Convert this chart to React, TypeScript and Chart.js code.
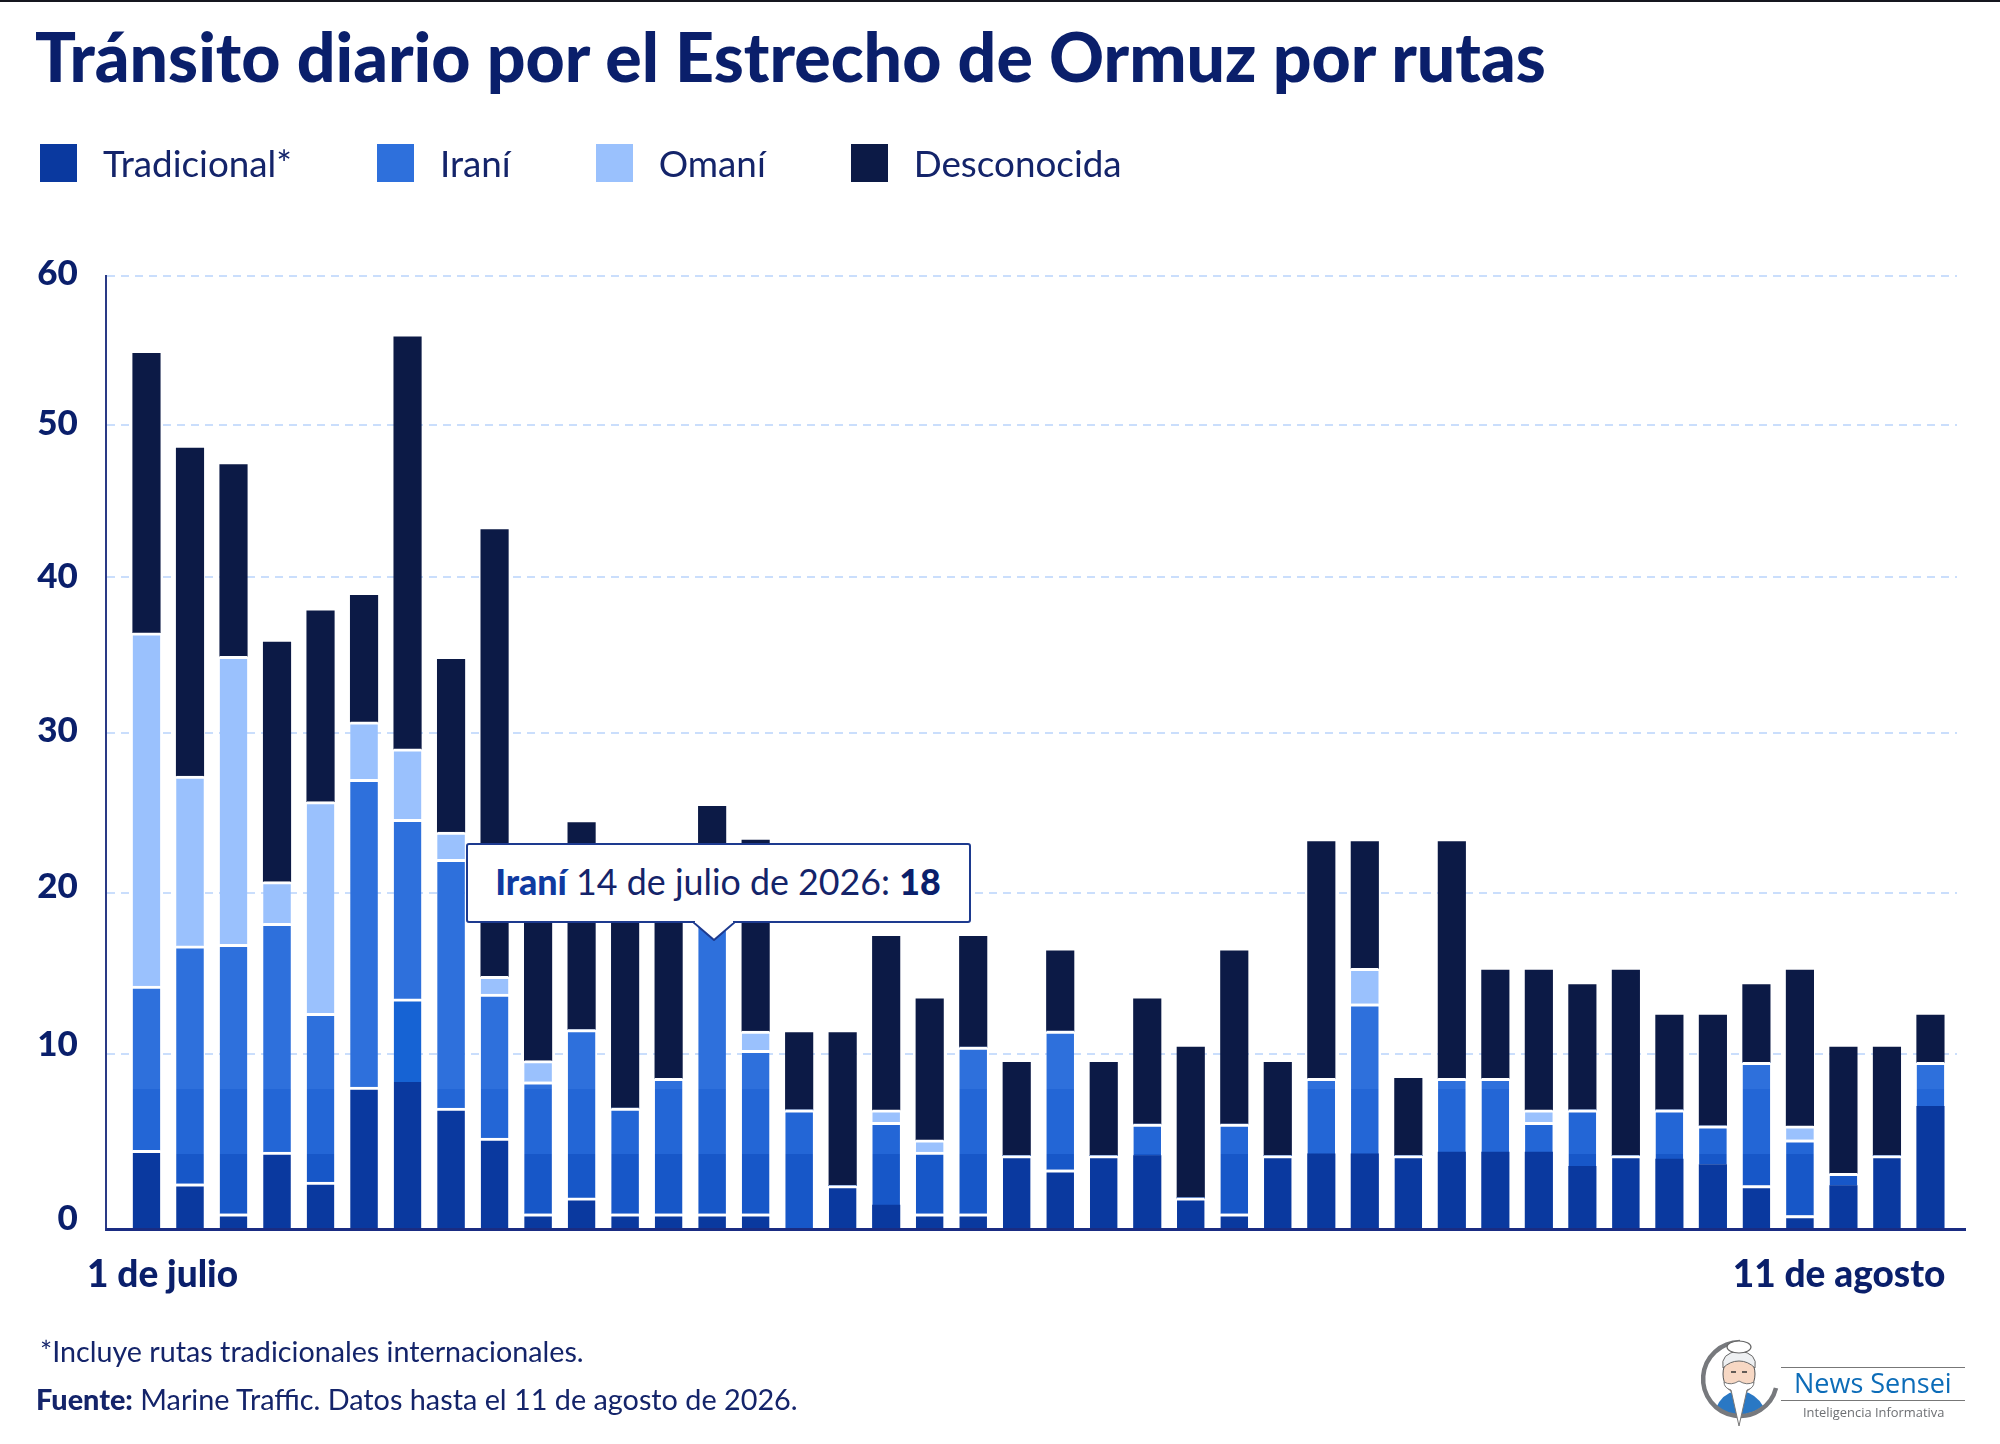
import { useEffect, useRef } from "react"
import { Chart, LinearScale, registerables } from "chart.js"

const days = [
  "1 de julio", "2 de julio", "3 de julio", "4 de julio", "5 de julio", "6 de julio", "7 de julio",
  "8 de julio", "9 de julio", "10 de julio", "11 de julio", "12 de julio", "13 de julio", "14 de julio",
  "15 de julio", "16 de julio", "17 de julio", "18 de julio", "19 de julio", "20 de julio", "21 de julio",
  "22 de julio", "23 de julio", "24 de julio", "25 de julio", "26 de julio", "27 de julio", "28 de julio",
  "29 de julio", "30 de julio", "31 de julio", "1 de agosto", "2 de agosto", "3 de agosto", "4 de agosto",
  "5 de agosto", "6 de agosto", "7 de agosto", "8 de agosto", "9 de agosto", "10 de agosto", "11 de agosto",
]

const tradicional = [
  4.5, 2.6, 0.9, 4.4, 2.7, 8.1, 13.4, 6.9, 5.2, 0.9, 1.8, 0.9, 0.9, 0.9, 0.9, 0, 2.5, 1.4, 0.9, 0.9, 4.2,
  3.4, 4.2, 4.2, 1.8, 0.9, 4.2, 4.3, 4.3, 4.2, 4.4, 4.4, 4.4, 3.6, 4.2, 4, 3.7, 2.5, 0.8, 2.5, 4.2, 7,
]
const irani = [
  9.7, 14.1, 15.9, 13.7, 9.8, 19, 11.2, 15.2, 8.5, 7.5, 9.7, 6, 7.7, 18, 9.3, 6.8, 0, 4.7, 3.5, 9.5, 0,
  8, 0, 1.8, 0, 5.1, 0, 4.3, 8.8, 0, 4.2, 4.2, 1.7, 3.2, 0, 2.8, 2.2, 7, 4.3, 0.7, 0, 2.5,
]
const omani = [
  22.2, 10.6, 18.1, 2.6, 13.2, 3.6, 4.4, 1.7, 1.1, 1.2, 0, 0, 0, 0, 1.2, 0, 0, 0.7, 0.7, 0, 0,
  0, 0, 0, 0, 0, 0, 0, 2.2, 0, 0, 0, 0.7, 0, 0, 0, 0, 0, 0.8, 0, 0, 0,
]
const desconocida = [
  18.4, 21.2, 12.5, 15.1, 12.1, 8.1, 26.9, 10.9, 28.3, 10.4, 12.9, 13, 12.4, 6.5, 11.9, 4.5, 8.8, 10.5, 8.3, 6.9, 5.3,
  5, 5.3, 7.4, 8.6, 10.4, 5.3, 14.6, 7.9, 4.4, 14.6, 6.6, 8.4, 7.5, 11, 5.6, 6.5, 4.8, 9.3, 7.2, 6.2, 2.9,
]

// Días en que tradicional e iraní se tocan sin la línea blanca
const noSeamDays = [17, 23, 27, 28, 30, 31, 32, 33, 35, 36, 39, 41]

const seriesNames = ["Tradicional*", "Iraní", "Omaní", "Desconocida"]
const seriesColors = ["#0a399f", "#2e70dc", "#9ac1fd", "#0c1a46"]

const yTicks = [0, 10, 20, 30, 40, 50, 60]
// El eje del original no es regular: fracción de la altura para cada tick
const yTickFractions = [0, 0.1845, 0.3529, 0.5207, 0.6845, 0.8429, 1]
// Los rótulos del eje tampoco caen justo sobre su línea (px)
const yLabelShifts = [-11, -9, -6, -2, 0, -2, -2]

const xTickDays = [0.37, 38.9]
const xTickLabels = [days[0], days[41]]

const NAVY = "#0a1f6b"

class PiecewiseScale extends LinearScale {
  static id = "piecewise"
  static defaults = LinearScale.defaults

  getPixelForValue(value: number) {
    let i = 0
    while (i < yTicks.length - 2 && value > yTicks[i + 1]) i++
    const t = (value - yTicks[i]) / (yTicks[i + 1] - yTicks[i])
    return this.getPixelForDecimal(yTickFractions[i] + t * (yTickFractions[i + 1] - yTickFractions[i]))
  }

  getValueForPixel(pixel: number) {
    const f = this.getDecimalForPixel(pixel)
    let i = 0
    while (i < yTicks.length - 2 && f > yTickFractions[i + 1]) i++
    const t = (f - yTickFractions[i]) / (yTickFractions[i + 1] - yTickFractions[i])
    return yTicks[i] + t * (yTicks[i + 1] - yTicks[i])
  }

  _computeLabelItems(area: any) {
    const items = (LinearScale.prototype as any)._computeLabelItems.call(this, area)
    items.forEach((item: any, i: number) => {
      const [x, y] = item.options.translation
      item.options.translation = [x, y + (yLabelShifts[i] ?? 0)]
    })
    return items
  }
}

Chart.register(...registerables, PiecewiseScale)

// Los tonos de las barras cambian con la altura, con cortes netos
function toneBands(chart: any, fallback: string, limits: number[], colors: string[]) {
  const y = chart.scales.y
  if (!chart.chartArea || !y) return fallback
  const bottom = y.getPixelForValue(0)
  const top = y.getPixelForValue(60)
  const gradient = chart.ctx.createLinearGradient(0, bottom, 0, top)
  colors.forEach((color, i) => {
    const from = i === 0 ? 0 : (bottom - y.getPixelForValue(limits[i - 1])) / (bottom - top)
    const to = i === colors.length - 1 ? 1 : (bottom - y.getPixelForValue(limits[i])) / (bottom - top)
    gradient.addColorStop(from, color)
    gradient.addColorStop(to, color)
  })
  return gradient
}

const toPoints = (values: number[]) => values.map((y, x) => ({ x, y }))

const baselinePlugin = {
  id: "baseline",
  afterDatasetsDraw(chart: any) {
    const { ctx, chartArea } = chart
    ctx.save()
    ctx.strokeStyle = "#1a2c82"
    ctx.lineWidth = 3
    ctx.beginPath()
    ctx.moveTo(chartArea.left, chartArea.bottom)
    ctx.lineTo(chartArea.right + 9, chartArea.bottom)
    ctx.stroke()
    ctx.restore()
  },
}

function Logo() {
  return (
    <svg width="84" height="92" viewBox="0 0 84 92" style={{ position: "absolute", left: 1698, top: 1336 }}>
      <circle cx="41" cy="43" r="36" fill="#fff" />
      <path d="M18 72q6-14 19-17l8 0q13 3 20 15q-10 8-24 9q-14-1-23-7z" fill="#2a78c4" />
      <path d="M42 6A37 37 0 1 0 78 52" fill="none" stroke="#77797d" strokeWidth="4.500" />
      <ellipse cx="41" cy="38" rx="16" ry="20" fill="#f7d8c4" stroke="#555" strokeWidth="1" />
      <path d="M25 32q-3-15 16-17q19 2 16 17q-7-7-16-7q-9 0-16 7z" fill="#eef0f2" stroke="#666" strokeWidth="1" />
      <ellipse cx="41" cy="11" rx="12" ry="6" fill="#fff" stroke="#666" strokeWidth="1.200" />
      <path d="M26 46q7 4 15-1q8 5 15 1q0 6-7 8l-8 36l-8-36q-7-2-7-8z" fill="#fff" stroke="#777" strokeWidth="1" />
      <path d="M33 36h5M44 36h5" stroke="#333" strokeWidth="1.500" />
    </svg>
  )
}

export default function App() {
  const chartRef = useRef<HTMLCanvasElement>(null)
  const tipRef = useRef<HTMLDivElement>(null)

  useEffect(() => {
    if (!chartRef.current) return

    const chart = new Chart(chartRef.current, {
      type: "bar",
      data: {
        datasets: [
          {
            label: seriesNames[0],
            data: toPoints(tradicional),
            backgroundColor: (c: any) => toneBands(c.chart, seriesColors[0], [8.4], ["#0a399f", "#1663d4"]),
            borderColor: "#fff",
            borderWidth: (c: any) => ({ top: noSeamDays.includes(c.dataIndex) ? 0 : 3 }),
          },
          {
            label: seriesNames[1],
            data: toPoints(irani),
            backgroundColor: (c: any) =>
              toneBands(c.chart, seriesColors[1], [4.3, 8], ["#1757c8", "#2366d6", "#2e70dc"]),
            borderColor: "#fff",
            borderWidth: { top: 3 },
          },
          {
            label: seriesNames[2],
            data: toPoints(omani),
            backgroundColor: seriesColors[2],
            borderColor: "#fff",
            borderWidth: { top: 3 },
          },
          {
            label: seriesNames[3],
            data: toPoints(desconocida),
            backgroundColor: seriesColors[3],
          },
        ],
      } as any,
      options: {
        responsive: false,
        animation: false,
        devicePixelRatio: 1,
        events: [],
        layout: { padding: { top: 275.5, right: 43, bottom: 124.4, left: 0 } },
        datasets: { bar: { barThickness: 27.5 } },
        scales: {
          x: {
            type: "linear",
            stacked: true,
            offset: false,
            min: -0.935,
            max: 41.61,
            grid: { display: false },
            border: { display: false },
            afterBuildTicks: (scale: any) => {
              scale.ticks = xTickDays.map((value) => ({ value }))
            },
            afterFit: (scale: any) => {
              scale.height = 90
            },
            ticks: {
              autoSkip: false,
              maxRotation: 0,
              padding: 15,
              color: NAVY,
              font: { family: "Lato", weight: "900", size: 37 },
              callback: (_v: any, i: number) => xTickLabels[i],
            },
          },
          y: {
            type: "piecewise",
            stacked: true,
            min: 0,
            max: 60,
            afterFit: (scale: any) => {
              scale.width = 105.8
            },
            grid: { color: "#cadefc", lineWidth: 2, drawTicks: false },
            border: { display: true, color: "#2a3a86", width: 2, dash: [8, 6] },
            ticks: {
              stepSize: 10,
              padding: 28,
              color: NAVY,
              font: { family: "Lato", weight: "900", size: 35 },
            },
          },
        } as any,
        plugins: {
          legend: { display: false },
          title: { display: false },
          tooltip: {
            enabled: false,
            external: ({ tooltip }: any) => {
              const tip = tipRef.current
              const point = tooltip.dataPoints?.[0]
              if (!tip || !point) return
              tip.style.display = "block"
              tip.style.left = `${point.element.x - 246}px`
              tip.style.top = `${point.element.y + 12 - 80}px`
              const name = tip.querySelector("b.name") as HTMLElement
              const date = tip.querySelector("span.date") as HTMLElement
              const value = tip.querySelector("b.value") as HTMLElement
              name.textContent = point.dataset.label
              date.textContent = ` ${days[point.dataIndex]} de 2026: `
              value.textContent = String(point.raw.y)
            },
          },
        },
      },
      plugins: [baselinePlugin],
    })

    chart.tooltip?.setActiveElements([{ datasetIndex: 1, index: 13 }], { x: 0, y: 0 })

    return () => {
      chart.destroy()
    }
  }, [])

  return (
    <div
      style={{
        position: "absolute",
        left: 0,
        top: 0,
        width: 2000,
        height: 1444,
        background: "#fff",
        overflow: "hidden",
        fontFamily: "Lato, sans-serif",
        color: "#14246a",
      }}
    >
      <canvas ref={chartRef} width={2000} height={1444} style={{ position: "absolute", left: 0, top: 0 }} />
      <div style={{ position: "absolute", left: 0, top: 0, width: 2000, height: 2, background: "#15171f" }} />

      <div
        style={{
          position: "absolute",
          left: 35,
          top: 13,
          fontSize: 68,
          lineHeight: "85px",
          fontWeight: 900,
          color: NAVY,
          whiteSpace: "nowrap",
        }}
      >
        Tránsito diario por el Estrecho de Ormuz por rutas
      </div>

      <div style={{ position: "absolute", left: 40, top: 144, display: "flex", gap: 85, alignItems: "center" }}>
        {seriesNames.map((name, i) => (
          <div key={name} style={{ display: "flex", alignItems: "center", gap: 26 }}>
            <span style={{ width: 37, height: 38, background: seriesColors[i], display: "block" }} />
            <span style={{ fontSize: 36.8, lineHeight: "38px", whiteSpace: "nowrap" }}>{name}</span>
          </div>
        ))}
      </div>

      <div
        ref={tipRef}
        style={{
          display: "none",
          position: "absolute",
          width: 505,
          height: 80,
          boxSizing: "border-box",
          background: "#fff",
          border: "2px solid #1d3a8f",
          borderRadius: 3,
          fontSize: 35.8,
          lineHeight: "74px",
          paddingLeft: 27,
          color: "#14246a",
          whiteSpace: "pre",
        }}
      >
        <b className="name" style={{ color: "#0f3aa0", fontWeight: 900 }} />
        <span className="date" />
        <b className="value" style={{ color: NAVY, fontWeight: 900 }} />
        <svg width="42" height="20" viewBox="0 0 42 20" style={{ position: "absolute", left: 225, top: 76 }}>
          <path d="M0 1L21 19L42 1" fill="#fff" stroke="#1d3a8f" strokeWidth="2" />
          <rect x="2" y="0" width="38" height="2" fill="#fff" />
        </svg>
      </div>

      <div style={{ position: "absolute", left: 40, top: 1334, fontSize: 28.7, lineHeight: "34px", whiteSpace: "nowrap" }}>
        *Incluye rutas tradicionales internacionales.
      </div>
      <div style={{ position: "absolute", left: 36, top: 1382, fontSize: 28.8, lineHeight: "34px", whiteSpace: "nowrap" }}>
        <b style={{ fontWeight: 900 }}>Fuente:</b> Marine Traffic. Datos hasta el 11 de agosto de 2026.
      </div>

      <Logo />
      <div style={{ position: "absolute", left: 1781, top: 1367, width: 184, height: 32, borderTop: "1.5px solid #777", borderBottom: "1.5px solid #777" }} />
      <div style={{ position: "absolute", left: 1794, top: 1365, fontSize: 27, lineHeight: "36px", color: "#0c6cb8", fontFamily: "Open Sans", whiteSpace: "nowrap" }}>
        News Sensei
      </div>
      <div style={{ position: "absolute", left: 1803, top: 1402, fontSize: 12.9, lineHeight: "20px", color: "#6d6f73", fontFamily: "Open Sans", whiteSpace: "nowrap" }}>
        Inteligencia Informativa
      </div>
    </div>
  )
}
